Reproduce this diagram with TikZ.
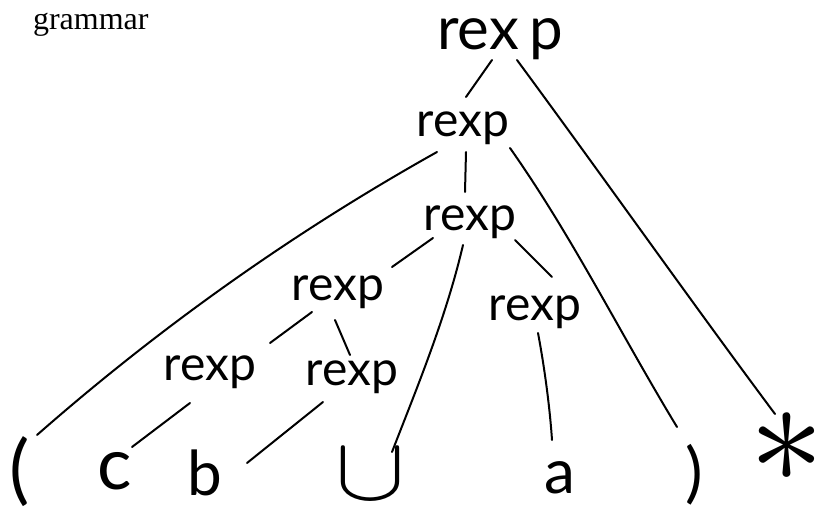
\documentclass[tikz,border=0pt]{standalone}
\usepackage{fontspec}
\setmainfont{Liberation Serif}
\newfontfamily\hand{Lato}
\begin{document}
\begin{tikzpicture}[x=1pt,y=-1pt,
  lbl/.style={inner sep=0pt, outer sep=0pt},
  nt/.style={lbl, font=\hand\fontsize{48}{48}\selectfont},
  edge/.style={line width=2pt, line cap=round, line join=round}]
\useasboundingbox (0,0) rectangle (817,511);

% title
\node[lbl, anchor=base west, font=\fontsize{32}{32}\selectfont] (title) at (33,30) {grammar};

% nonterminals
\node[lbl, font=\hand\fontsize{60}{60}\selectfont] (top) at (500,39) {rex\,p};
\node[nt] (r2) at (463,128) {rexp};
\node[nt] (r3) at (470,222) {rexp};
\node[nt] (r4) at (338,292) {rexp};
\node[nt] (r5) at (535,312) {rexp};
\node[nt] (r6) at (210,372) {rexp};
\node[nt] (r7) at (352,377) {rexp};

% terminals
\node[lbl, font=\hand\fontsize{76}{76}\selectfont] (lp) at (20,472) {(};
\node[lbl, font=\hand\fontsize{72}{72}\selectfont] (c) at (115,471) {c};
\node[lbl, font=\hand\fontsize{62}{62}\selectfont] (b) at (205,473) {b};
\node[lbl] (cup) at (370,474) {\scalebox{10.5}[9]{$\cup$}};
\node[lbl, font=\hand\fontsize{62}{62}\selectfont] (a) at (560,478) {a};
\node[lbl, font=\hand\fontsize{66}{66}\selectfont] (rp) at (694,475) {)};
\node[lbl] (star) at (787,448) {\scalebox{15}{$\mkern-1.2mu\ast\mkern-1.2mu$}};

% tree edges
\draw[edge] ([shift={(-8,21)}]top.center) -- ([shift={(3,-31)}]r2.center);
\draw[edge] ([shift={(17,21)}]top.center) .. controls (604,178) and (690,300) .. ([shift={(-12,-34)}]star.center);
\draw[edge] ([shift={(-26,24)}]r2.center) .. controls (294,232) and (160,327) .. ([shift={(17,-37)}]lp.center);
\draw[edge] ([shift={(3,24)}]r2.center) -- ([shift={(-5,-30)}]r3.center);
\draw[edge] ([shift={(47,20)}]r2.center) .. controls (572,236) and (620,333) .. ([shift={(-17,-48)}]rp.center);
\draw[edge] ([shift={(-37,16)}]r3.center) -- ([shift={(54,-25)}]r4.center);
\draw[edge] ([shift={(-7,23)}]r3.center) .. controls (446,318) and (416,390) .. ([shift={(22,-22)}]cup.center);
\draw[edge] ([shift={(45,18)}]r3.center) -- ([shift={(17,-35)}]r5.center);
\draw[edge] ([shift={(-26,20)}]r4.center) -- ([shift={(60,-29)}]r6.center);
\draw[edge] ([shift={(-3,28)}]r4.center) -- ([shift={(-2,-22)}]r7.center);
\draw[edge] ([shift={(-20,31)}]r6.center) -- ([shift={(17,-24)}]c.center);
\draw[edge] ([shift={(-29,25)}]r7.center) -- ([shift={(42,-10)}]b.center);
\draw[edge] ([shift={(3,21)}]r5.center) .. controls (545,370) and (550,410) .. ([shift={(-8,-38)}]a.center);
\end{tikzpicture}
\end{document}
